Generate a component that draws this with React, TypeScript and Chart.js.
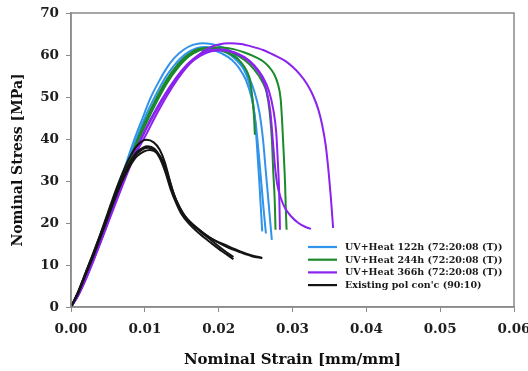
import React, { useEffect, useRef } from "react";
import { Chart, registerables } from "chart.js";

Chart.register(...registerables);

// ---- labels / ticks ----
const seriesLabels = [
  "UV+Heat 122h (72:20:08 (T))",
  "UV+Heat 244h (72:20:08 (T))",
  "UV+Heat 366h (72:20:08 (T))",
  "Existing pol con'c (90:10)",
];
const seriesColors = ["#3193ea", "#1c8a2a", "#8b22ee", "#141414"];
const xTitle = "Nominal Strain [mm/mm]";
const yTitle = "Nominal Stress [MPa]";
const xRange = [0, 0.06];
const yRange = [0, 70];
const xStep = 0.01;
const yStep = 10;

// ---- curves: [strain, stress] ----
const uv122hA = [[0,0],[0.001,3.3],[0.002,7.5],[0.003,12],[0.004,16.8],[0.005,21.8],[0.006,26.8],[0.007,31.8],[0.0085,39.5],[0.0097,45],[0.0107,49.5],[0.012,54],[0.013,57],[0.014,59.3],[0.0152,61.2],[0.0165,62.4],[0.0178,62.8],[0.019,62.6],[0.0203,62],[0.0215,61],[0.0225,59.3],[0.0233,57],[0.024,54],[0.0245,50.5],[0.0249,45],[0.0252,38],[0.0255,30],[0.0257,24],[0.0259,18]];
const uv122hB = [[0,0],[0.001,3.2],[0.002,7.3],[0.003,11.7],[0.004,16.4],[0.005,21.3],[0.006,26.2],[0.007,31],[0.0085,38.3],[0.01,45],[0.011,48.8],[0.012,52.2],[0.013,55.2],[0.014,57.6],[0.0155,60.2],[0.017,61.6],[0.0183,61.9],[0.0197,61.5],[0.021,60.6],[0.022,59.4],[0.023,57.6],[0.024,55],[0.0248,51.5],[0.0255,46.5],[0.026,40],[0.0264,32],[0.0268,24],[0.0272,16]];
const uv122hC = [[0,0],[0.001,3.1],[0.002,7.1],[0.003,11.5],[0.004,16.1],[0.005,20.9],[0.006,25.7],[0.007,30.4],[0.0085,37.5],[0.01,43.8],[0.0115,49.3],[0.013,54],[0.0145,57.8],[0.016,60.2],[0.0175,61.2],[0.019,61.2],[0.0205,60.3],[0.0218,58.8],[0.0228,56.8],[0.0237,54],[0.0245,49.5],[0.025,44],[0.0254,37],[0.0258,29],[0.0261,23],[0.0264,17.5]];

const uv244hA = [[0,0],[0.001,3],[0.002,7],[0.003,11.3],[0.004,15.9],[0.005,20.6],[0.006,25.4],[0.007,30],[0.0085,36.8],[0.01,43],[0.0115,48.5],[0.013,53.3],[0.0145,57],[0.016,59.7],[0.0175,61.2],[0.019,61.8],[0.0205,61.8],[0.022,61.4],[0.0235,60.6],[0.025,59.5],[0.026,58.5],[0.0268,57.2],[0.0275,55.5],[0.028,53.2],[0.0284,49.5],[0.0286,44],[0.0288,37],[0.029,29],[0.0291,23],[0.0292,18.4]];
const uv244hB = [[0,0],[0.001,3.1],[0.002,7.1],[0.003,11.4],[0.004,16],[0.005,20.8],[0.006,25.6],[0.007,30.3],[0.0085,37.2],[0.01,43.5],[0.0115,49],[0.013,53.8],[0.0145,57.5],[0.016,60.1],[0.0175,61.4],[0.019,61.7],[0.0205,61.3],[0.022,60.4],[0.0235,58.8],[0.0248,56.6],[0.0258,54],[0.0265,51],[0.0269,46.5],[0.0272,40],[0.0274,32],[0.0276,25],[0.0277,18.4]];
const uv244hC = [[0,0],[0.001,3.2],[0.002,7.3],[0.003,11.6],[0.004,16.3],[0.005,21.1],[0.006,25.9],[0.007,30.6],[0.0085,37.6],[0.01,44],[0.0115,49.5],[0.013,54.2],[0.0145,57.8],[0.016,60.3],[0.0175,61.5],[0.019,61.6],[0.0205,61],[0.022,59.8],[0.023,58.3],[0.0238,56.2],[0.0243,53.5],[0.0246,49],[0.0248,45],[0.0249,41]];

const uv366hA = [[0,0],[0.001,2.8],[0.002,6.5],[0.003,10.8],[0.004,15.3],[0.005,19.9],[0.006,24.5],[0.007,29],[0.0085,35.5],[0.0103,41.5],[0.0115,45.6],[0.013,50.3],[0.0145,54.4],[0.0157,57.2],[0.017,59.6],[0.0185,61.5],[0.02,62.5],[0.0215,62.8],[0.023,62.6],[0.0245,62],[0.026,61.2],[0.0275,60],[0.029,58.6],[0.03,57.2],[0.031,55.4],[0.032,53],[0.0328,50.3],[0.0335,47],[0.034,43.5],[0.0345,38.5],[0.0349,32],[0.0352,26],[0.0355,18.8]];
const uv366hB = [[0,0],[0.001,2.9],[0.002,6.7],[0.003,11],[0.004,15.5],[0.005,20.2],[0.006,24.9],[0.007,29.5],[0.0085,36],[0.01,41.7],[0.0115,46.6],[0.013,51],[0.0145,54.8],[0.016,57.8],[0.0175,59.8],[0.019,60.9],[0.0205,61.1],[0.022,60.6],[0.0235,59.3],[0.0248,57.3],[0.0258,54.8],[0.0265,51.5],[0.027,46.5],[0.0273,40.5],[0.0276,34],[0.0279,29.5],[0.0284,26],[0.029,23.5],[0.0298,21.6],[0.0308,20],[0.0317,19.1],[0.0325,18.6]];
const uv366hC = [[0,0],[0.001,2.9],[0.002,6.8],[0.003,11.1],[0.004,15.6],[0.005,20.3],[0.006,25],[0.007,29.6],[0.0085,36.2],[0.01,42],[0.0115,47],[0.013,51.4],[0.0145,55.2],[0.016,58.2],[0.0175,60.2],[0.019,61.2],[0.0205,61.3],[0.022,60.7],[0.0235,59.5],[0.0248,57.6],[0.0259,55],[0.0268,51.5],[0.0274,47],[0.0278,41.5],[0.028,35],[0.0282,27],[0.0283,18.4]];

const existingA = [[0,0],[0.001,3.8],[0.002,8.3],[0.003,12.8],[0.004,17.5],[0.005,22.5],[0.006,27.5],[0.007,32],[0.008,35.8],[0.009,38.5],[0.0102,39.8],[0.0112,39.2],[0.012,37.5],[0.0127,34.5],[0.0134,30],[0.0142,25.5],[0.015,22.5],[0.016,20.3],[0.0175,18.2],[0.019,16.3],[0.021,14.7],[0.023,13.2],[0.0245,12.3],[0.0259,11.7]];
const existingB = [[0,0],[0.001,3.6],[0.002,8],[0.003,12.4],[0.004,17],[0.005,21.8],[0.006,26.5],[0.007,30.8],[0.008,34.2],[0.009,36.6],[0.0104,37.9],[0.0113,37.3],[0.012,35.5],[0.0128,32],[0.0135,28],[0.0143,24.5],[0.015,22],[0.016,19.8],[0.0175,17.3],[0.019,15.2],[0.0205,13.2],[0.022,11.4]];
const existingC = [[0,0],[0.001,3.4],[0.002,7.7],[0.003,12],[0.004,16.6],[0.005,21.3],[0.006,26],[0.007,30.2],[0.008,33.6],[0.009,36],[0.0107,37.4],[0.0117,36.6],[0.0125,34.5],[0.0132,31],[0.0139,27],[0.0147,23.8],[0.0155,21.5],[0.0165,19.7],[0.018,17.5],[0.0195,15.8],[0.021,14.4],[0.023,13],[0.0245,12.1],[0.0259,11.6]];
const existingD = [[0,0],[0.001,3.7],[0.002,8.1],[0.003,12.6],[0.004,17.3],[0.005,22.1],[0.006,26.8],[0.007,31],[0.008,34.6],[0.009,37],[0.0104,38.3],[0.0113,37.7],[0.0121,35.8],[0.0129,32.5],[0.0136,28.3],[0.0144,24.8],[0.0152,22.2],[0.0162,20],[0.0177,17.7],[0.0192,15.6],[0.0207,13.5],[0.022,11.9]];

const seriesCurves = [
  [uv122hA, uv122hB, uv122hC],
  [uv244hA, uv244hB, uv244hC],
  [uv366hA, uv366hB, uv366hC],
  [existingA, existingB, existingC, existingD],
];
// draw order: first dataset ends up on top
const drawOrder = [3, 2, 1, 0];

const FONT = "'DejaVu Serif', 'Liberation Serif', serif";

const framePlugin = {
  id: "frameAndLegend",
  afterDraw(chart: any) {
    const { ctx, chartArea } = chart;
    ctx.save();
    ctx.strokeStyle = "#8a8a8a";
    ctx.lineWidth = 1.5;
    ctx.strokeRect(chartArea.left, chartArea.top, chartArea.right - chartArea.left, chartArea.bottom - chartArea.top);
    // legend
    const x0 = chartArea.right - 206;
    const y0 = chartArea.bottom - 60;
    ctx.font = `bold 9.5px ${FONT}`;
    ctx.textBaseline = "middle";
    ctx.textAlign = "left";
    seriesLabels.forEach((lab, i) => {
      const y = y0 + i * 12.7;
      ctx.strokeStyle = seriesColors[i];
      ctx.lineWidth = 2.2;
      ctx.beginPath();
      ctx.moveTo(x0, y);
      ctx.lineTo(x0 + 29, y);
      ctx.stroke();
      ctx.fillStyle = "#1a1a1a";
      ctx.fillText(lab, x0 + 37, y + 0.5);
    });
    ctx.restore();
  },
};

export default function App() {
  const ref = useRef<HTMLCanvasElement>(null);
  useEffect(() => {
    if (!ref.current) return;
    const datasets: any[] = [];
    drawOrder.forEach((g) => {
      seriesCurves[g].forEach((curve) => {
        datasets.push({
          label: seriesLabels[g],
          data: curve.map(([x, y]) => ({ x, y })),
          borderColor: seriesColors[g],
          backgroundColor: seriesColors[g],
          borderWidth: 2,
          showLine: true,
          pointRadius: 0,
          cubicInterpolationMode: "monotone",
          fill: false,
        });
      });
    });
    const tickFont = { family: FONT, weight: "bold" as const, size: 13.5 };
    const chart = new Chart(ref.current, {
      type: "scatter",
      data: { datasets },
      options: {
        responsive: false,
        animation: false,
        layout: { padding: { top: 13, right: 14, left: 0, bottom: 0 } },
        plugins: { legend: { display: false }, tooltip: { enabled: false } },
        scales: {
          x: {
            type: "linear",
            min: xRange[0],
            max: xRange[1],
            ticks: {
              stepSize: xStep,
              callback: (v: any) => Number(v).toFixed(2),
              font: tickFont,
              color: "#1e1e1e",
              padding: 9,
              maxRotation: 0,
            },
            grid: { drawOnChartArea: false, drawTicks: true, tickLength: 5, color: "#8a8a8a" },
            border: { display: true, color: "#8a8a8a", width: 1.5 },
            title: {
              display: true,
              text: xTitle,
              font: { family: FONT, weight: "bold", size: 15 },
              color: "#111",
              padding: { top: 0, bottom: 1.5 },
            },
            afterFit: (s: any) => { s.height = 64; s.paddingRight = 0; s.paddingLeft = 0; },
          },
          y: {
            type: "linear",
            min: yRange[0],
            max: yRange[1],
            ticks: {
              stepSize: yStep,
              font: tickFont,
              color: "#1e1e1e",
              padding: 7,
            },
            grid: { drawOnChartArea: false, drawTicks: true, tickLength: 5, color: "#8a8a8a" },
            border: { display: true, color: "#8a8a8a", width: 1.5 },
            title: {
              display: true,
              text: yTitle,
              font: { family: FONT, weight: "bold", size: 14 },
              color: "#111",
              padding: { top: 10, bottom: 0 },
            },
            afterFit: (s: any) => { s.width = 71; s.paddingTop = 0; s.paddingBottom = 0; },
          },
        },
      },
      plugins: [framePlugin],
    });
    return () => chart.destroy();
  }, []);
  return (
    <div style={{ position: "absolute", left: 0, top: 0, width: 528, height: 371, background: "#fff" }}>
      <canvas ref={ref} width={528} height={371} />
    </div>
  );
}
